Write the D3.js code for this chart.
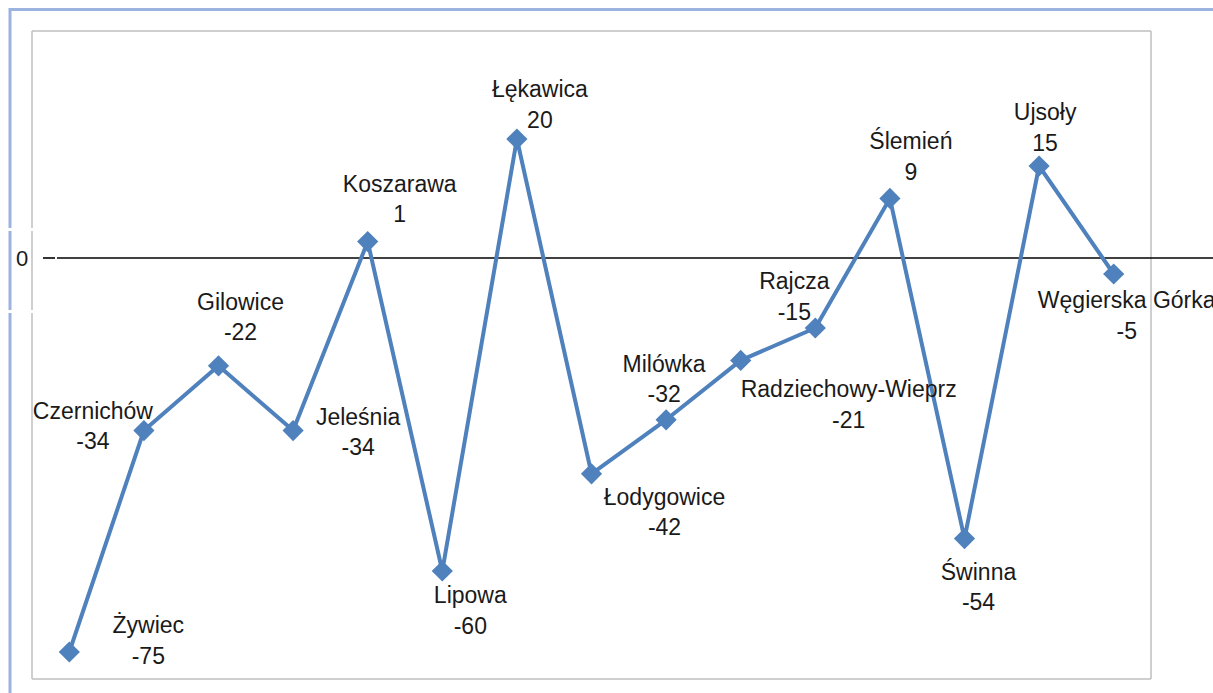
<!DOCTYPE html>
<html>
<head>
<meta charset="utf-8">
<script src="https://cdn.jsdelivr.net/npm/d3@7"></script>
<style>
  html, body { margin: 0; padding: 0; background: #fff; overflow: hidden; }
  svg { display: block; font-family: "Liberation Sans", Arial, sans-serif; }
</style>
</head>
<body>
<div id="chart"></div>
<script>
// Gminas and their values
const gminas = ['Żywiec', 'Czernichów', 'Gilowice', 'Jeleśnia', 'Koszarawa', 'Lipowa', 'Łękawica',
  'Łodygowice', 'Milówka', 'Radziechowy-Wieprz', 'Rajcza', 'Ślemień', 'Świnna', 'Ujsoły', 'Węgierska Górka'];
const values = [-75, -34, -22, -34, 1, -60, 20, -42, -32, -21, -15, 9, -54, 15, -5];
const yDomain = [-80, 40];
const refTicks = [0];

// hand-placed data labels: offset of label centre / first baseline from the marker
const labelOffsets = [[79, -19], [-51, -12], [22, -56], [65, -6], [32, -50], [28, 32], [23, -42],
  [73, 31], [-2, -48], [108, 37], [-21, -39], [21, -49], [14, 41], [6, -46], [13, 34]];

const width = 1213;
const height = 693;
const plot = { left: 32, top: 31, right: 1151, bottom: 679 };

const svg = d3.select('#chart').append('svg')
  .attr('width', width)
  .attr('height', height);

// outer frame (blue), broken where the zero label piece was pasted in
const blue = '#9db3df';
svg.append('line')
  .attr('x1', 9).attr('x2', width).attr('y1', 9.5).attr('y2', 9.5)
  .attr('stroke', blue).attr('stroke-width', 3);
[[8, 228], [231, 310], [313, height]].forEach(([a, b]) => {
  svg.append('line')
    .attr('x1', 10).attr('x2', 10).attr('y1', a).attr('y2', b)
    .attr('stroke', blue).attr('stroke-width', 3);
});

// plot area frame (grey)
const grey = '#bfbfbf';
svg.append('line')
  .attr('x1', plot.left).attr('x2', plot.right).attr('y1', plot.top).attr('y2', plot.top)
  .attr('stroke', grey).attr('stroke-width', 1.5);
svg.append('line')
  .attr('x1', plot.left).attr('x2', plot.right).attr('y1', plot.bottom).attr('y2', plot.bottom)
  .attr('stroke', grey).attr('stroke-width', 1.5);
svg.append('line')
  .attr('x1', plot.right).attr('x2', plot.right).attr('y1', plot.top).attr('y2', plot.bottom)
  .attr('stroke', grey).attr('stroke-width', 1.5);
[[plot.top, 228], [231, 310], [313, plot.bottom]].forEach(([a, b]) => {
  svg.append('line')
    .attr('x1', plot.left).attr('x2', plot.left).attr('y1', a).attr('y2', b)
    .attr('stroke', grey).attr('stroke-width', 1.5);
});

const x = d3.scalePoint()
  .domain(gminas)
  .range([plot.left, plot.right])
  .padding(0.5);

const y = d3.scaleLinear()
  .domain(yDomain)
  .range([plot.bottom, plot.top]);

const data = gminas.map((name, i) => ({ name, value: values[i], off: labelOffsets[i] }));

// zero reference line (sits a little below the true zero in the original)
const zeroShift = 11;
const refAxis = svg.append('g')
  .attr('transform', `translate(0, ${zeroShift})`);
refAxis.selectAll('line.ref')
  .data(refTicks)
  .join('line')
  .attr('class', 'ref')
  .attr('x1', 57).attr('x2', width)
  .attr('y1', d => y(d)).attr('y2', d => y(d))
  .attr('stroke', '#000').attr('stroke-width', 1.6);
refAxis.selectAll('line.dash')
  .data(refTicks)
  .join('line')
  .attr('class', 'dash')
  .attr('x1', 43).attr('x2', 55)
  .attr('y1', d => y(d)).attr('y2', d => y(d))
  .attr('stroke', '#000').attr('stroke-width', 1.6);
refAxis.selectAll('text')
  .data(refTicks)
  .join('text')
  .attr('x', 22)
  .attr('y', d => y(d) + 8)
  .attr('text-anchor', 'middle')
  .attr('font-size', 22)
  .attr('fill', '#1a1a1a')
  .text(d => d);

// series line
const line = d3.line()
  .x(d => x(d.name))
  .y(d => y(d.value));

svg.append('path')
  .datum(data)
  .attr('fill', 'none')
  .attr('stroke', '#4f81bd')
  .attr('stroke-width', 4)
  .attr('stroke-linejoin', 'round')
  .attr('d', line);

// diamond markers
svg.selectAll('rect.marker')
  .data(data)
  .join('rect')
  .attr('class', 'marker')
  .attr('x', -7.5).attr('y', -7.5)
  .attr('width', 15).attr('height', 15)
  .attr('fill', '#4f81bd')
  .attr('transform', d => `translate(${x(d.name)}, ${y(d.value)}) rotate(45)`);

// data labels: name on the first line, value below
const labels = svg.selectAll('text.label')
  .data(data)
  .join('text')
  .attr('class', 'label')
  .attr('text-anchor', 'middle')
  .attr('font-size', 23)
  .attr('fill', '#1a1a1a')
  .attr('transform', d => `translate(${x(d.name) + d.off[0]}, ${y(d.value) + d.off[1]})`);

labels.append('tspan')
  .attr('x', 0).attr('y', 0)
  .text(d => d.name);
labels.append('tspan')
  .attr('x', 0).attr('y', 30.5)
  .text(d => d.value);
</script>
</body>
</html>
